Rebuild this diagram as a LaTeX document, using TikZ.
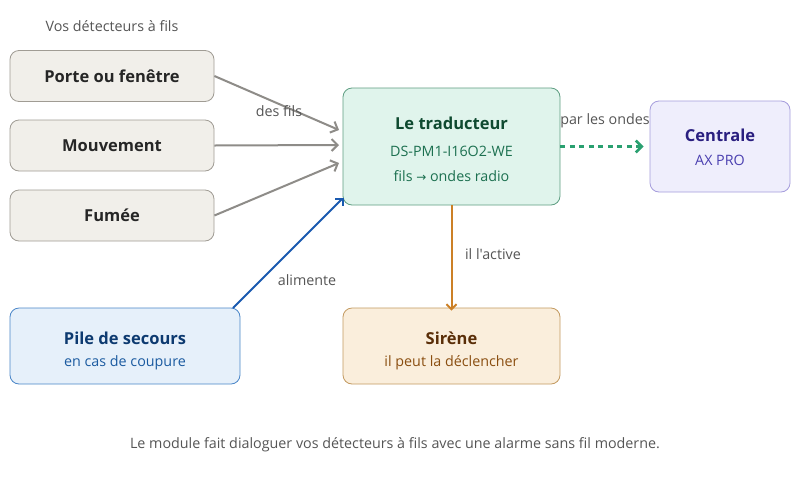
\documentclass[tikz,border=0pt]{standalone}
\usepackage{fontspec}
\setmainfont{Open Sans}
\newfontfamily\plainfont{Open Sans}
\newfontfamily\symfont{DejaVu Sans}
\usetikzlibrary{arrows.meta}
\definecolor{gfill}{HTML}{F1EFEA}
\definecolor{gdraw}{HTML}{A09C94}
\definecolor{tfill}{HTML}{E0F4EC}
\definecolor{tdraw}{HTML}{5E9E82}
\definecolor{ttit}{HTML}{0F4A30}
\definecolor{tsub}{HTML}{1C7050}
\definecolor{cfill}{HTML}{EFEEFC}
\definecolor{cdraw}{HTML}{A59CDC}
\definecolor{ctit}{HTML}{2A1F80}
\definecolor{csub}{HTML}{4A3FB0}
\definecolor{pfill}{HTML}{E6F0FA}
\definecolor{pdraw}{HTML}{4A86C8}
\definecolor{ptit}{HTML}{0D3A70}
\definecolor{psub}{HTML}{1A5AA0}
\definecolor{sfill}{HTML}{FAEEDC}
\definecolor{sdraw}{HTML}{C39A60}
\definecolor{stit}{HTML}{5A2E08}
\definecolor{ssub}{HTML}{8A4E10}
\definecolor{agray}{HTML}{8E8C88}
\definecolor{ablue}{HTML}{1A5AB0}
\definecolor{agreen}{HTML}{2AA070}
\definecolor{aorange}{HTML}{CC8026}
\definecolor{lbl}{HTML}{555555}
\tikzset{
  x=1pt,y=-1pt,
  box/.style={draw, rounded corners=9pt, line width=0.8pt, inner sep=0pt, align=center},
  det/.style={box, fill=gfill, draw=gdraw, minimum width=204pt, minimum height=51pt, font=\fontsize{16.5}{19}\selectfont\bfseries, text=black!85},
  tit/.style={font=\fontsize{16.5}{19}\selectfont\bfseries},
  sub/.style={font=\fontsize{14.3}{17}\selectfont},
  lab/.style={font=\fontsize{14.3}{17}\selectfont, text=lbl},
  arr/.style={-{Straight Barb[length=6pt,width=12pt]}, line width=2pt},
  arrs/.style={-{Straight Barb[length=5pt,width=10pt]}, line width=2pt},
}
\begin{document}
\begin{tikzpicture}
\useasboundingbox (0,0) rectangle (800,480);
\fill[white] (0,0) rectangle (800,480);
\node[lab] (hdr) at (112,26) {Vos détecteurs à fils};
\node[det] (porte) at (112,76) {Porte ou fenêtre};
\node[det] (mouv) at (112,145.5) {Mouvement};
\node[det] (fumee) at (112,215.5) {Fumée};
\node[box, fill=tfill, draw=tdraw, minimum width=217pt, minimum height=117pt] (trad) at (451.5,146.5) {};
\node[tit, text=ttit] (tradt) at (451.5,123) {Le traducteur};
\node[sub, text=tsub] (trads) at (451.5,151) {DS-PM1-I16O2-WE};
\node[sub, text=tsub] (tradr) at (451.5,176) {fils {\symfont\fontsize{12}{14}\selectfont →} ondes radio};
\node[box, fill=cfill, draw=cdraw, minimum width=140pt, minimum height=91pt] (cent) at (720,146.5) {};
\node[tit, text=ctit] (centt) at (720,135) {Centrale};
\node[sub, text=csub] (cents) at (720,160) {AX PRO};
\node[box, fill=pfill, draw=pdraw, minimum width=230pt, minimum height=76pt] (pile) at (125,346) {};
\node[tit, text=ptit] (pilet) at (125,338) {Pile de secours};
\node[sub, text=psub] (piles) at (125,363) {en cas de coupure};
\node[box, fill=sfill, draw=sdraw, minimum width=217pt, minimum height=76pt] (sir) at (451.5,346) {};
\node[tit, text=stit] (sirt) at (451.5,338) {Sirène};
\node[sub, text=ssub] (sirs) at (451.5,363) {il peut la déclencher};
\coordinate (t1) at (339,130);
\coordinate (t2) at (339,145);
\coordinate (t3) at (339,163);
\draw[arr, agray] (porte.east) -- (t1);
\draw[arr, agray] (mouv.east) -- (t2);
\draw[arr, agray] (fumee.east) -- (t3);
\node[lab] (desfils) at (279,111) {des fils};
\coordinate (p0) at (233,308);
\coordinate (p1) at (343.5,197.5);
\draw[arrs, ablue] (p0) -- (p1);
\draw[arr, agreen, line width=2.6pt, dash pattern=on 5pt off 4.5pt] (trad.east) -- ([xshift=-6pt]cent.west);
\node[lab] (parles) at (605,121) {par les ondes};
\draw[arrs, aorange] (trad.south) -- ([yshift=-3pt]sir.north);
\node[lab] (active) at (493,254) {\plainfont il l'active};
\node[lab] (alim) at (307,280) {alimente};
\node[lab] (cap) at (395,445) {Le module fait dialoguer vos détecteurs à fils avec une alarme sans fil moderne.};
\end{tikzpicture}
\end{document}
